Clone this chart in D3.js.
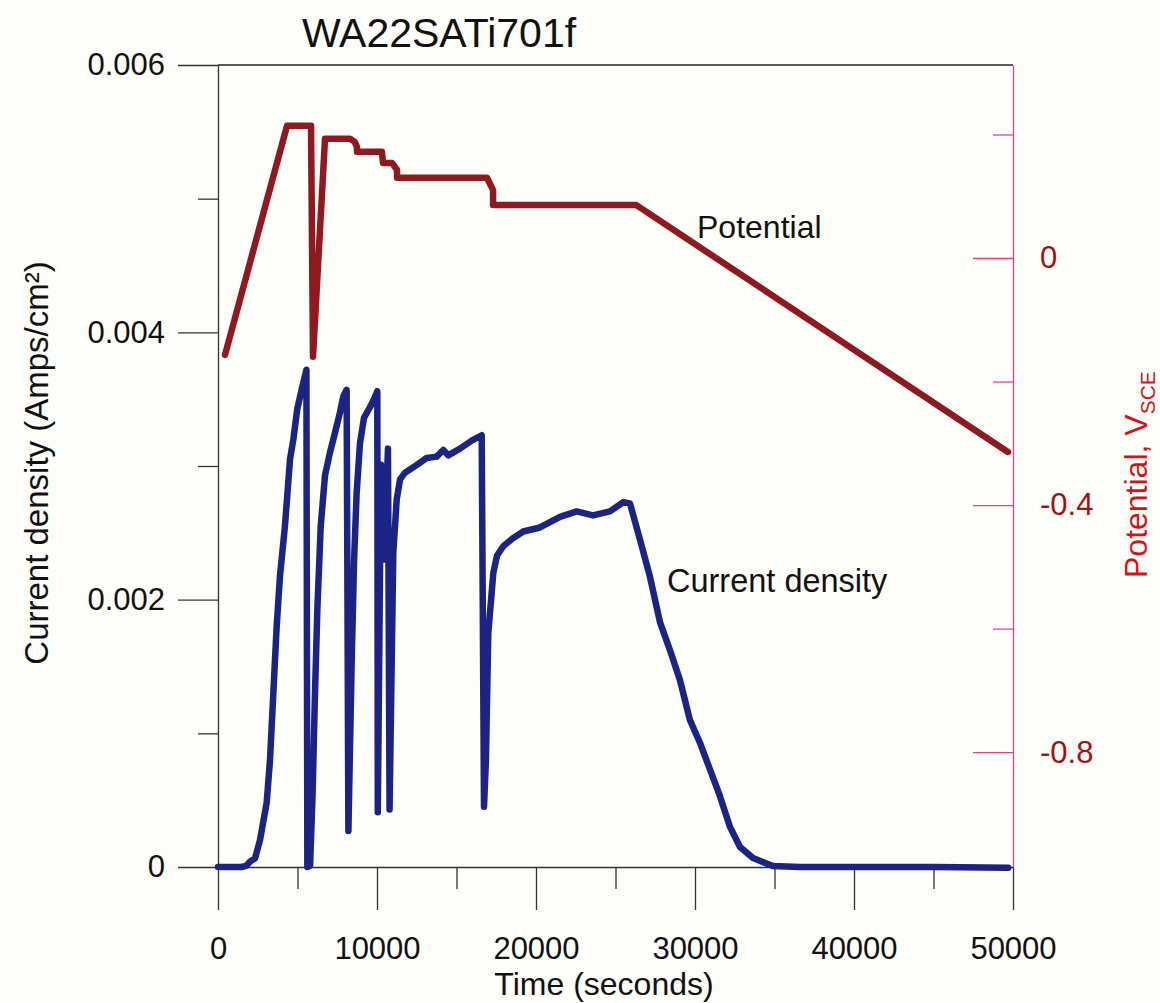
<!DOCTYPE html>
<html>
<head>
<meta charset="utf-8">
<script src="https://cdn.jsdelivr.net/npm/d3@7"></script>
<style>
  body { margin: 0; background: #fdfdf9; }
  svg { display: block; font-family: "Liberation Sans", Arial, sans-serif; }
</style>
</head>
<body>
<svg id="chart" width="1160" height="1003"></svg>
<script>
// time (s) vs current density (A/cm2)
const curT = [0, 1490, 1800, 2010, 2330, 2640, 2850, 3060, 3270, 3480, 3690, 3900, 4210, 4530, 4740, 4990, 5260, 5560,
  5620, 5790, 5950, 6100, 6250, 6460, 6730, 7040, 7360, 7670, 7880, 8090,
  8200, 8410, 8560, 8720, 8930, 9180, 9560, 9810, 10020,
  10050, 10250, 10440, 10690,
  10790, 11025, 11240, 11450, 11760, 12280, 13125, 13755, 14170, 14480, 15220, 15955, 16585,
  16730, 16850, 17000, 17315, 17550, 17940, 18550, 19200, 20250, 21510, 22560, 23580, 24650, 25490, 25910,
  26540, 27170, 27800, 28430, 29050, 29680, 30310, 30940, 31570, 32200, 32830, 33650, 34900, 36600, 40000, 45000, 49700];
const curV = [0, 0, 0.00001, 0.00004, 0.000065, 0.0002, 0.00034, 0.00048, 0.0008, 0.0013, 0.0018, 0.00218, 0.00255, 0.00305, 0.0032, 0.00343, 0.00357, 0.00372,
  0, 0.00001, 0.00055, 0.0013, 0.00193, 0.00255, 0.00293, 0.0031, 0.00325, 0.0034, 0.00352, 0.00357,
  0.00027, 0.00155, 0.0023, 0.0028, 0.00317, 0.00336, 0.00344, 0.0035, 0.00356,
  0.00041, 0.00301, 0.0023, 0.00313,
  0.00043, 0.00235, 0.00275, 0.0029, 0.00295, 0.00299, 0.00306, 0.00307, 0.00312, 0.00308, 0.00313, 0.00319, 0.00323,
  0.00045, 0.0008, 0.00175, 0.0022, 0.00233, 0.0024, 0.00246, 0.00251, 0.00254, 0.00262, 0.00266, 0.00263, 0.00266, 0.00273, 0.00272,
  0.00245, 0.00217, 0.00183, 0.00162, 0.0014, 0.0011, 0.00093, 0.00073, 0.00053, 0.0003, 0.00015, 0.000067, 0.0000075, 0, 0, 0, -0.000005];

// time (s) vs potential (V_SCE)
const potT = [440, 4340, 5850, 5975, 6730, 8300, 8600, 8740, 8740, 10310, 10380, 10940, 11260, 11260, 16920, 17300, 17300, 26290, 49680];
const potV = [-0.157, 0.214, 0.214, -0.160, 0.193, 0.193, 0.188, 0.180, 0.172, 0.172, 0.154, 0.154, 0.143, 0.130, 0.130, 0.110, 0.086, 0.086, -0.314];

const xMajor = [0, 10000, 20000, 30000, 40000, 50000];
const xMinor = [5000, 15000, 25000, 35000, 45000];
const leftMajor = [0, 0.002, 0.004, 0.006];
const leftMinor = [0.001, 0.003, 0.005];
const rightMajor = [0, -0.4, -0.8];
const rightMinor = [0.2, -0.2, -0.6];

const plotLeft = 218, plotRight = 1013, plotTop = 65, plotBottom = 867;

const svg = d3.select("#chart");

const x = d3.scaleLinear().domain([0, 50000]).range([plotLeft, plotRight]);
const yL = d3.scaleLinear().domain([0, 0.006]).range([plotBottom, plotTop]);
const yR = d3.scaleLinear().domain([-0.986, 0.3125]).range([plotBottom, plotTop]);

function styleAxis(g, lineColor, textColor) {
    g.selectAll("line").attr("stroke", lineColor).attr("stroke-width", 1.3);
    g.selectAll("path").attr("stroke", lineColor).attr("stroke-width", 1.3);
    g.selectAll("text").attr("fill", textColor).style("font-size", "31px")
        .style("font-family", '"Liberation Sans", Arial, sans-serif');
}

// top frame line
svg.append("line")
    .attr("x1", plotLeft).attr("x2", plotRight).attr("y1", plotTop).attr("y2", plotTop)
    .attr("stroke", "#222").attr("stroke-width", 1.3);

// x axis
let gx = svg.append("g").attr("transform", `translate(0,${plotBottom})`)
    .call(d3.axisBottom(x).tickValues(xMajor).tickSize(43).tickSizeOuter(0).tickPadding(27).tickFormat(d3.format("d")));
styleAxis(gx, "#333", "#111");
let gx2 = svg.append("g").attr("transform", `translate(0,${plotBottom})`)
    .call(d3.axisBottom(x).tickValues(xMinor).tickSize(22).tickFormat(""));
gx2.select(".domain").remove();
styleAxis(gx2, "#333", "#111");

// left axis
let gl = svg.append("g").attr("transform", `translate(${plotLeft},0)`)
    .call(d3.axisLeft(yL).tickValues(leftMajor).tickSize(40).tickSizeOuter(0).tickPadding(13)
        .tickFormat(d => d === 0 ? "0" : d.toFixed(3)));
styleAxis(gl, "#333", "#111");
let gl2 = svg.append("g").attr("transform", `translate(${plotLeft},0)`)
    .call(d3.axisLeft(yL).tickValues(leftMinor).tickSize(20).tickFormat(""));
gl2.select(".domain").remove();
styleAxis(gl2, "#333", "#111");

// right axis (plain hyphen minus like the original)
let gr = svg.append("g").attr("transform", `translate(${plotRight},0)`)
    .call(d3.axisRight(yR).tickValues(rightMajor).tickSize(-40).tickSizeOuter(0).tickPadding(27)
        .tickFormat(d => d === 0 ? "0" : d.toFixed(1)));
styleAxis(gr, "#e0457c", "#9b1414");
gr.select(".domain").attr("stroke", "#dc3f9c");
let gr2 = svg.append("g").attr("transform", `translate(${plotRight},0)`)
    .call(d3.axisRight(yR).tickValues(rightMinor).tickSize(-20).tickFormat(""));
gr2.select(".domain").remove();
styleAxis(gr2, "#dc45a8", "#9b1414");

// curves
const potLine = d3.line().x((d, i) => x(potT[i])).y((d, i) => yR(potV[i]));
svg.append("path")
    .attr("d", potLine(potT))
    .attr("fill", "none").attr("stroke", "#8e1a1f").attr("stroke-width", 6.5)
    .attr("stroke-linejoin", "round").attr("stroke-linecap", "round");

const curLine = d3.line().x((d, i) => x(curT[i])).y((d, i) => yL(curV[i]));
svg.append("path")
    .attr("d", curLine(curT))
    .attr("fill", "none").attr("stroke", "#1b2482").attr("stroke-width", 6.5)
    .attr("stroke-linejoin", "round").attr("stroke-linecap", "round");

// titles
svg.append("text").attr("x", 439).attr("y", 47).attr("text-anchor", "middle")
    .style("font-size", "41px").attr("fill", "#111").text("WA22SATi701f");

svg.append("text").attr("transform", "translate(48,463) rotate(-90)").attr("text-anchor", "middle")
    .style("font-size", "33px").attr("fill", "#111").text("Current density (Amps/cm²)");

let rt = svg.append("text").attr("transform", "translate(1147,578) rotate(-90)")
    .style("font-size", "32px").attr("fill", "#cf1515");
rt.append("tspan").text("Potential, V");
rt.append("tspan").attr("dy", 8).style("font-size", "21px").text("SCE");

svg.append("text").attr("x", 604).attr("y", 995).attr("text-anchor", "middle")
    .style("font-size", "32px").attr("fill", "#111").text("Time (seconds)");

// annotations
svg.append("text").attr("x", 697).attr("y", 238)
    .style("font-size", "32px").attr("fill", "#111").text("Potential");
svg.append("text").attr("x", 667).attr("y", 592)
    .style("font-size", "32.5px").attr("fill", "#111").text("Current density");
</script>
</body>
</html>
